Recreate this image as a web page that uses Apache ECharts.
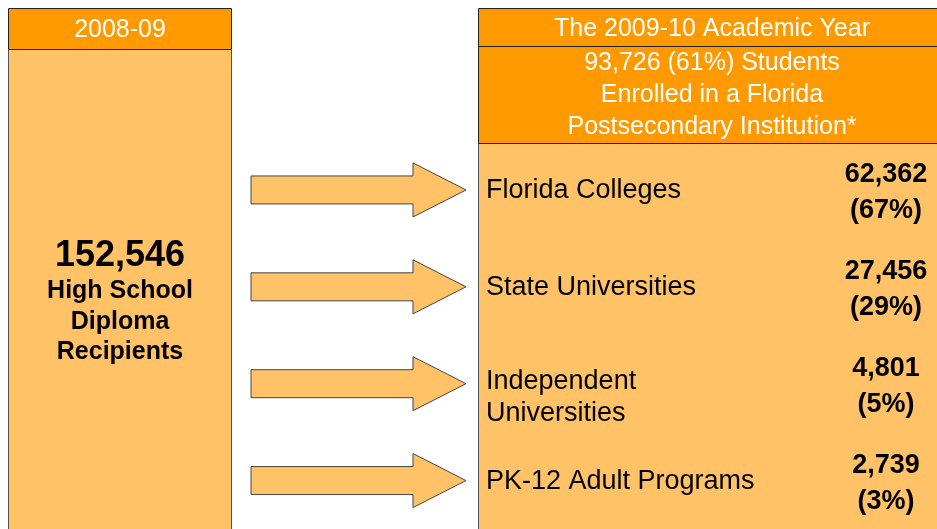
<!DOCTYPE html>
<html>
<head>
<meta charset="utf-8">
<title>Florida 2008-09 graduates</title>
<script src="https://cdn.jsdelivr.net/npm/echarts@6/dist/echarts.min.js"></script>
<style>
  html, body { margin: 0; padding: 0; background: #fff; }
  #chart { width: 937px; height: 529px; }
</style>
</head>
<body>
<div id="chart"></div>
<script>
// values
const sourceYear = '2008-09';
const targetYear = 'The 2009-10 Academic Year';
const diplomaTotal = 152546;
const diplomaLabel = ['High School', 'Diploma', 'Recipients'];
const enrolledTotal = 93726;
const enrolledShare = 61;
const enrolledLabel = ['Students', 'Enrolled in a Florida', 'Postsecondary Institution*'];
const destinations = ['Florida Colleges', 'State Universities', 'Independent\nUniversities', 'PK-12 Adult Programs'];
const students = [62362, 27456, 4801, 2739];
const shares = [67, 29, 5, 3];

const FONT = '"Liberation Sans", Arial, sans-serif';
const DARK = '#FF9900';
const LIGHT = '#FFC266';
const fmt = (n) => n.toLocaleString('en-US');

const chart = echarts.init(document.getElementById('chart'));

chart.setOption({
  animation: false,
  backgroundColor: '#fff',
  grid: { left: 251, right: 471, top: 141.5, height: 396 },
  xAxis: { type: 'value', min: 0, max: 1, show: false },
  yAxis: { type: 'category', data: destinations, inverse: true, show: false },
  graphic: [
    // left box
    { type: 'rect', z: 0, shape: { x: 8.5, y: 49.5, width: 223, height: 500 },
      style: { fill: LIGHT, stroke: '#555' } },
    { type: 'rect', z: 0, shape: { x: 8.5, y: 8.5, width: 223, height: 41 },
      style: { fill: DARK, stroke: '#222' } },
    { type: 'text', z: 1, style: { x: 120, y: 30, text: sourceYear, fill: '#fff',
      font: '25px ' + FONT, align: 'center', verticalAlign: 'middle' } },
    { type: 'text', z: 1, style: { x: 120, y: 256, text: fmt(diplomaTotal), fill: '#000',
      font: 'bold 36px ' + FONT, align: 'center', verticalAlign: 'middle' } },
    { type: 'text', z: 1, style: { x: 120, y: 276, text: diplomaLabel.join('\n'), fill: '#000',
      font: 'bold 25px ' + FONT, lineHeight: 30.5, align: 'center', verticalAlign: 'top' } },
    // right box
    { type: 'rect', z: 0, shape: { x: 478.5, y: 143.5, width: 480, height: 400 },
      style: { fill: LIGHT, stroke: '#555' } },
    { type: 'rect', z: 0, shape: { x: 478.5, y: 46.5, width: 480, height: 97 },
      style: { fill: DARK, stroke: '#222' } },
    { type: 'rect', z: 0, shape: { x: 478.5, y: 8.5, width: 480, height: 38 },
      style: { fill: DARK, stroke: '#222' } },
    { type: 'text', z: 1, style: { x: 712, y: 29.5, text: targetYear, fill: '#fff',
      font: '25px ' + FONT, align: 'center', verticalAlign: 'middle' } },
    { type: 'text', z: 1, style: { x: 712, y: 47.5, fill: '#fff', font: '25px ' + FONT,
      lineHeight: 32, align: 'center', verticalAlign: 'top',
      text: fmt(enrolledTotal) + ' (' + enrolledShare + '%) ' + enrolledLabel[0] + '\n' +
            enrolledLabel.slice(1).join('\n') } }
  ],
  series: [
    {
      type: 'custom',
      z: 10,
      data: destinations.map((d, i) => [i, students[i], shares[i]]),
      renderItem: function (params, api) {
        const idx = api.value(0);
        const p0 = api.coord([0, idx]);
        const p1 = api.coord([1, idx]);
        const x0 = p0[0], x1 = p1[0], y = p0[1];
        const head = 53, shaft = 14, wing = 27;
        const name = destinations[params.dataIndex];
        const twoLines = name.indexOf('\n') >= 0;
        return {
          type: 'group',
          children: [
            {
              type: 'polygon',
              shape: { points: [
                [x0, y - shaft], [x1 - head, y - shaft], [x1 - head, y - wing],
                [x1, y], [x1 - head, y + wing], [x1 - head, y + shaft], [x0, y + shaft]
              ] },
              style: { fill: LIGHT, stroke: '#444', lineWidth: 1 }
            },
            {
              type: 'text',
              style: {
                x: x1 + 20, y: twoLines ? y - 18 : y + 1, text: name, fill: '#000',
                font: '27px ' + FONT, lineHeight: 32,
                align: 'left', verticalAlign: twoLines ? 'top' : 'middle'
              }
            },
            {
              type: 'text',
              style: {
                x: 886, y: y + 3,
                text: fmt(api.value(1)) + '\n(' + api.value(2) + '%)', fill: '#000',
                font: 'bold 27px ' + FONT, lineHeight: 36,
                align: 'center', verticalAlign: 'middle'
              }
            }
          ]
        };
      }
    }
  ]
});
</script>
</body>
</html>
